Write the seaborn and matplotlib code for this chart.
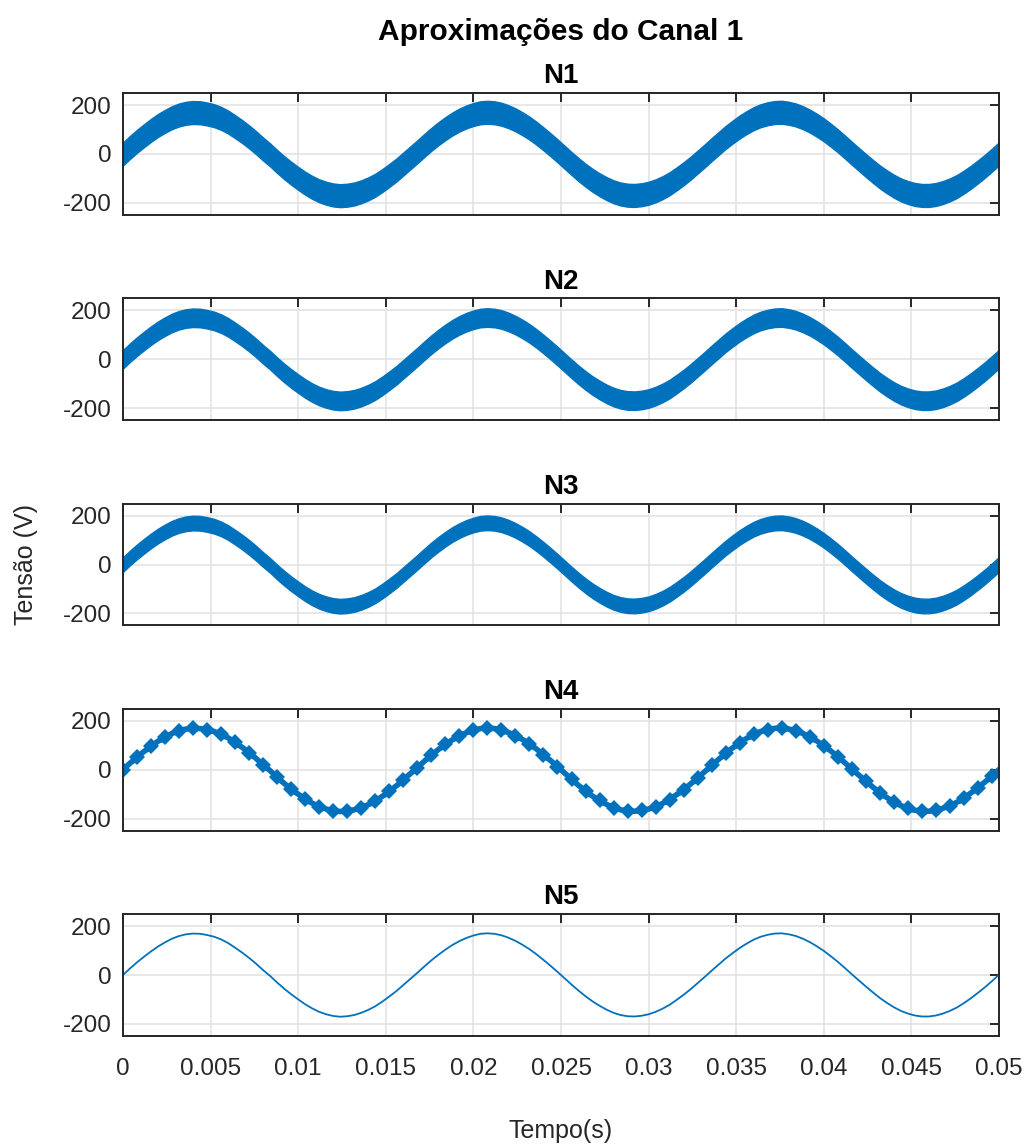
import numpy as np
import pandas as pd
import seaborn as sns
import matplotlib
matplotlib.use("Agg")
import matplotlib.pyplot as plt

# ---------------- data ----------------
time_step = 0.0004  # s, sampling of the read-off curve
# underlying 60 Hz waveform (V), as traced on the smoothest level (N5)
fundamental = [
    0, 27, 52, 75, 97, 117, 134, 149, 160, 167,
    170, 169, 164, 157, 146, 131, 112, 92, 70, 46,
    20, -4, -31, -56, -79, -100, -120, -137, -151, -161,
    -168, -171, -169, -164, -155, -143, -128, -109, -88, -66,
    -41, -16, 9, 35, 60, 83, 104, 123, 139, 152,
    162, 169, 171, 169, 163, 153, 140, 124, 106, 85,
    62, 38, 13, -13, -39, -64, -87, -108, -126, -142,
    -155, -164, -169, -170, -167, -161, -151, -138, -122, -102,
    -81, -58, -33, -8, 18, 43, 68, 90, 111, 129,
    145, 157, 165, 170, 171, 167, 160, 149, 135, 118,
    99, 77, 54, 29, 3, -22, -47, -71, -94, -114,
    -132, -147, -158, -166, -170, -170, -166, -158, -147, -133,
    -115, -95, -73, -50, -25, 1,
]
# half-width (V) of the high-frequency ripple band on levels N1..N3
band_halfwidth = {"N1": 47, "N2": 38, "N3": 30}
# N4: ripple envelope half-width (V) at each sample (bulge / neck pattern)
n4_ripple = [
    16, 2, 17, 2, 16, 3, 17, 2, 16, 2,
    15, 2, 17, 2, 16, 3, 16, 2, 17, 2,
    16, 2, 15, 3, 17, 2, 16, 2, 17, 2,
    16, 2, 15, 2, 17, 3, 16, 2, 17, 2,
    16, 2, 15, 2, 17, 2, 16, 3, 16, 2,
    17, 2, 16, 2, 15, 3, 17, 2, 16, 2,
    17, 2, 16, 2, 15, 2, 17, 3, 16, 2,
    17, 2, 16, 2, 15, 2, 17, 2, 16, 3,
    16, 2, 17, 2, 16, 2, 15, 3, 17, 2,
    16, 2, 17, 2, 16, 2, 15, 2, 17, 3,
    16, 2, 17, 2, 16, 2, 15, 2, 17, 2,
    16, 3, 16, 2, 17, 2, 16, 2, 15, 3,
    17, 2, 16, 2, 17, 2,
]
panel_titles = ["N1", "N2", "N3", "N4", "N5"]
x_ticks = [0, 0.005, 0.01, 0.015, 0.02, 0.025, 0.03, 0.035, 0.04, 0.045, 0.05]
x_tick_labels = ["0", "0.005", "0.01", "0.015", "0.02", "0.025", "0.03",
                 "0.035", "0.04", "0.045", "0.05"]
y_ticks = [-200, 0, 200]
y_tick_labels = ["-200", "0", "200"]

# ---------------- figure ----------------
sns.set_theme(style="white")
plt.rcParams["font.family"] = ["Liberation Sans", "DejaVu Sans"]

blue = "#0072BD"
dark = "#262626"

t = np.arange(len(fundamental)) * time_step
df = pd.DataFrame({"t": t, "v": np.array(fundamental, dtype=float),
                   "r4": np.array(n4_ripple, dtype=float)})

W, H = 1027, 1145
fig, axes = plt.subplots(5, 1, figsize=(W / 100, H / 100), dpi=100, sharex=True)
fig.subplots_adjust(left=123 / W, right=999 / W, top=1 - 93 / H,
                    bottom=1 - 1036 / H, hspace=0.683)

for i, ax in enumerate(axes):
    name = panel_titles[i]
    if name in band_halfwidth:
        hw = band_halfwidth[name]
        ax.fill_between(df["t"], df["v"] - hw, df["v"] + hw, color=blue,
                        lw=1.0, edgecolor=blue, zorder=3)
    elif name == "N4":
        ax.fill_between(df["t"], df["v"] - df["r4"], df["v"] + df["r4"],
                        color=blue, lw=0.8, edgecolor=blue, zorder=3)
        sns.lineplot(data=df, x="t", y="v", ax=ax, color=blue, lw=4.0,
                     marker="D", markersize=8.0, markevery=2,
                     markeredgewidth=0, zorder=3)
    else:
        sns.lineplot(data=df, x="t", y="v", ax=ax, color=blue, lw=1.3,
                     zorder=3)

    ax.set_xlim(0, 0.05)
    ax.set_ylim(-250, 250)
    ax.set_xticks(x_ticks)
    ax.set_yticks(y_ticks)
    ax.set_yticklabels(y_tick_labels)
    ax.set_xlabel("")
    ax.set_ylabel("")
    ax.grid(True, color="#e3e3e3", lw=1.2)
    ax.set_axisbelow(True)
    for s in ax.spines.values():
        s.set_color(dark)
        s.set_linewidth(1.4)
        s.set_zorder(5)
    ax.tick_params(axis="both", direction="in", length=6.8, width=1.4,
                   color=dark, labelcolor=dark, top=True, right=True,
                   labelsize=17.5)
    ax.tick_params(axis="y", pad=8)
    ax.tick_params(axis="x", pad=16)
    ax.set_title(name, fontsize=20, fontweight="bold", color="black", pad=7)

axes[-1].set_xticklabels(x_tick_labels)
for ax in axes[:-1]:
    ax.tick_params(axis="x", labelbottom=False)

axes[-1].set_xlabel("Tempo(s)", fontsize=18, color=dark)
axes[-1].xaxis.set_label_coords(0.5, -(1119 - 1036) / 122)
axes[2].set_ylabel("Tensão (V)", fontsize=18, color=dark)
axes[2].yaxis.set_label_coords(-(123 - 38) / 876, 0.5)

fig.suptitle("Aproximações do Canal 1", fontsize=21.5, fontweight="bold",
             color="black", x=561 / W, y=1 - 32 / H, va="center")

fig.savefig("out.png", dpi=100)
